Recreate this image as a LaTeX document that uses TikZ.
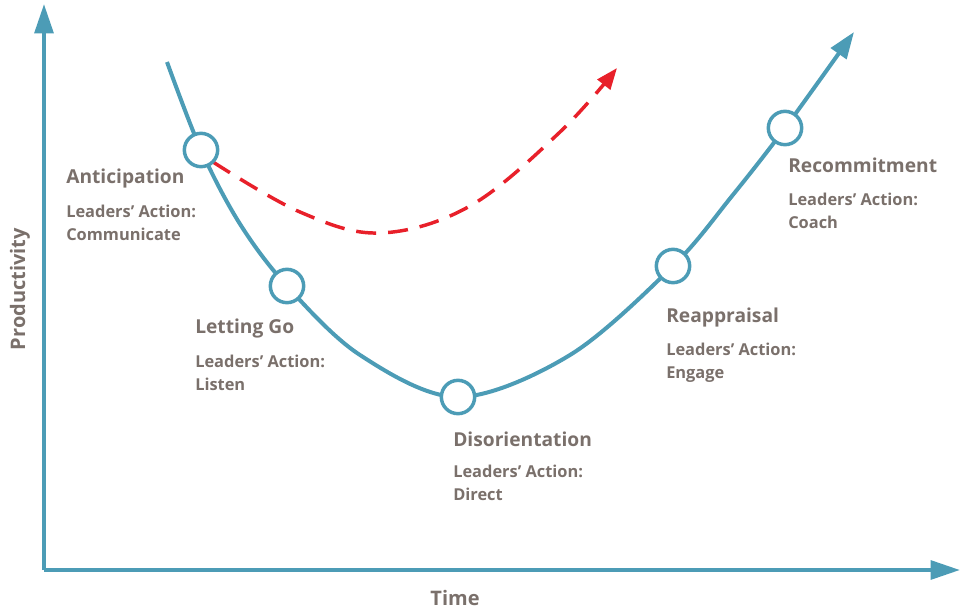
\documentclass[tikz,border=0pt]{standalone}
\usepackage{fontspec}
\setmainfont{Open Sans}
\usetikzlibrary{arrows.meta}
\definecolor{curveblue}{HTML}{4C9CB6}
\definecolor{labelgrey}{HTML}{7A706B}
\definecolor{dashred}{HTML}{E8202A}
\tikzset{
  axis/.style={draw=curveblue, line width=3pt, -{Triangle[length=22pt,width=14pt]}},
  stage/.style={circle, draw=curveblue, line width=2.6pt, fill=white, minimum size=25pt, inner sep=0pt},
  title/.style={anchor=base west, text=labelgrey, font=\fontsize{14.4}{17}\selectfont\bfseries, inner sep=0pt},
  sub/.style={anchor=base west, text=labelgrey, font=\fontsize{12.3}{17.25}\selectfont\bfseries, inner sep=0pt, align=left},
}
\begin{document}
\begin{tikzpicture}[x=0.75pt,y=-0.75pt]
\useasboundingbox (0,0) rectangle (961,611);
% axes
\coordinate (origin) at (44,570);
\coordinate (ytip) at (44,4);
\coordinate (xtip) at (960,570);
\draw[axis] (origin) -- (ytip);
\draw[axis] (origin) -- (xtip);
\node[text=labelgrey, font=\fontsize{15}{17}\selectfont\bfseries, rotate=90] (ylab) at (20,289) {Productivity};
\node[text=labelgrey, font=\fontsize{15}{17}\selectfont\bfseries] (xlab) at (455,598) {Time};
% curve
\draw[curveblue, line width=3pt, -{Triangle[length=20pt,width=14pt]}]
  plot[smooth, tension=0.55] coordinates {(167,62) (201,150) (240,224) (287,286) (360,355) (458,397) (570,355) (673,266) (732,196) (785,128) (854,32)};
% red dashed
\draw[dashred, line width=2.6pt, dash pattern=on 15pt off 9pt, -{Triangle[length=16pt,width=12pt]}]
  plot[smooth, tension=0.6] coordinates {(213,162) (300,212) (380,233) (470,206) (560,132) (617,68)};
% stage circles
\node[stage] (antic) at (201,150) {};
\node[stage] (letgo) at (287,286) {};
\node[stage] (disor) at (458,397) {};
\node[stage] (reapp) at (673,266) {};
\node[stage] (recom) at (785,128) {};
% labels
\node[title] (t1) at (66,183) {Anticipation};
\node[sub] (s1) at (66,240) {Leaders’ Action:\\Communicate};
\node[title] (t2) at (195,333) {Letting Go};
\node[sub] (s2) at (195,390) {Leaders’ Action:\\Listen};
\node[title] (t3) at (453,446) {Disorientation};
\node[sub] (s3) at (453,500) {Leaders’ Action:\\Direct};
\node[title] (t4) at (666,322) {Reappraisal};
\node[sub] (s4) at (666,378) {Leaders’ Action:\\Engage};
\node[title] (t5) at (788,172) {Recommitment};
\node[sub] (s5) at (788,228) {Leaders’ Action:\\Coach};
\end{tikzpicture}
\end{document}
